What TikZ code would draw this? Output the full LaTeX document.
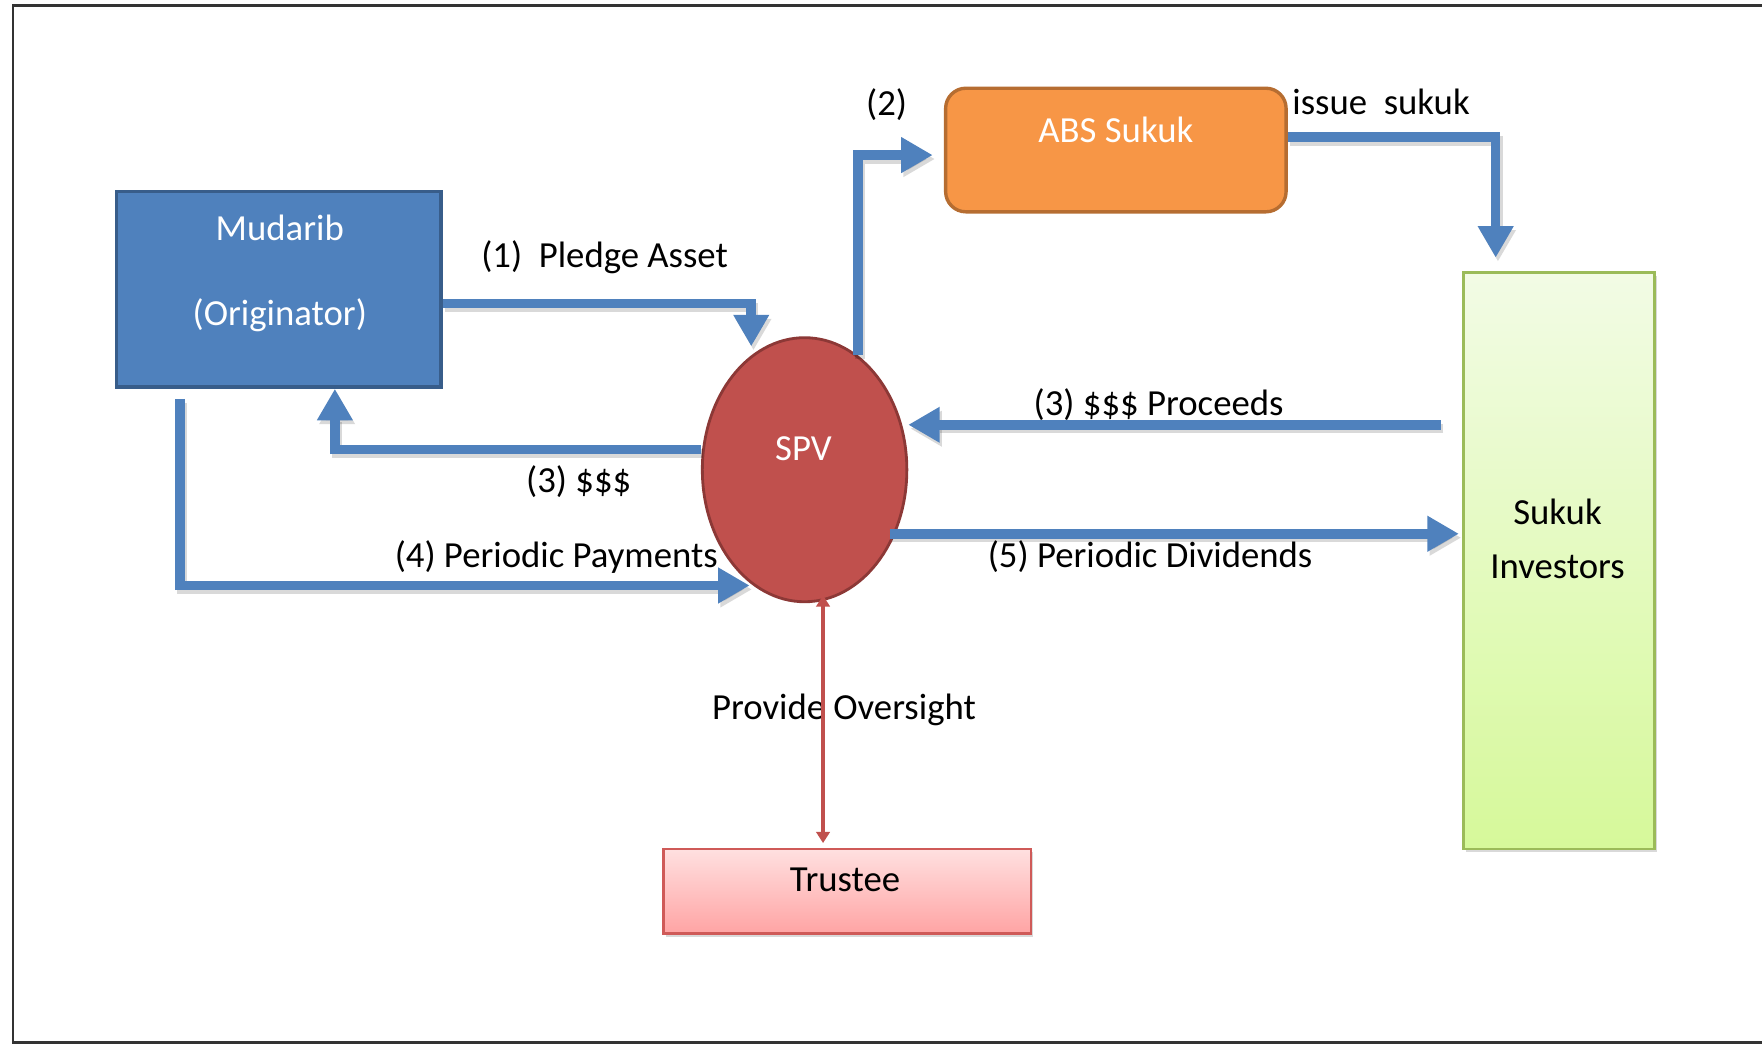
\documentclass[tikz,border=0pt]{standalone}
\usepackage{fontspec}
\setmainfont{Carlito}
\usetikzlibrary{arrows.meta,shapes.geometric,shadows}

\definecolor{flowblue}{HTML}{4F81BD}
\definecolor{mudfill}{HTML}{4F81BD}
\definecolor{mudedge}{HTML}{385D8A}
\definecolor{absfill}{HTML}{F79646}
\definecolor{absedge}{HTML}{B66D31}
\definecolor{spvfill}{HTML}{C0504D}
\definecolor{spvedge}{HTML}{8C3836}
\definecolor{invtop}{HTML}{F2FBE5}
\definecolor{invbot}{HTML}{D6F99A}
\definecolor{invedge}{HTML}{9BBB59}
\definecolor{trtop}{HTML}{FFE0E0}
\definecolor{trbot}{HTML}{FFA4A4}
\definecolor{tredge}{HTML}{CF5A58}
\definecolor{overred}{HTML}{C0504D}
\definecolor{framegray}{HTML}{333333}

\begin{document}
\begin{tikzpicture}[x=1pt,y=-1pt,
  every node/.style={font=\fontsize{32.7}{39}\selectfont},
  txt/.style={anchor=base, inner sep=0pt, text=black},
  wtxt/.style={anchor=base, inner sep=0pt, text=white},
  boxshape/.style={rectangle, inner sep=0pt},
  mudbox/.style={boxshape, fill=mudfill, draw=mudedge, line width=3pt,
    minimum width=289pt, minimum height=174pt},
  absbox/.style={boxshape, rounded corners=18pt, fill=absfill, draw=absedge,
    line width=3pt, minimum width=303pt, minimum height=110pt},
  spvnode/.style={ellipse, inner sep=0pt, fill=spvfill, draw=spvedge,
    line width=2.5pt, minimum width=182pt, minimum height=235pt},
  invbox/.style={boxshape, top color=invtop, bottom color=invbot, draw=invedge,
    line width=2.5pt, minimum width=170pt, minimum height=513pt,
    drop shadow={shadow xshift=2pt, shadow yshift=-3pt, opacity=0.3}},
  trbox/.style={boxshape, top color=trtop, bottom color=trbot, draw=tredge,
    line width=2.5pt, minimum width=327pt, minimum height=75pt,
    drop shadow={shadow xshift=2pt, shadow yshift=-3pt, opacity=0.3}},
  flow/.style={draw=flowblue, line width=8.5pt,
    -{Triangle[length=28pt,width=30pt]},
    preaction={draw=black, opacity=0.15, line width=8.5pt,
      -{Triangle[length=28pt,width=30pt]},
      transform canvas={shift={(2pt,-3.5pt)}}}},
  oversight/.style={draw=overred, line width=3.2pt,
    {Triangle[length=10pt,width=12pt]}-{Triangle[length=10pt,width=12pt]}}
]
\useasboundingbox (0,0) rectangle (1568,929);

% page frame
\draw[framegray, line width=2.6pt] (1568,5.3) -- (11.6,5.3) -- (11.6,927.3) -- (1568,927.3);

% parties
\node[mudbox] (mud) at (248,257.5) {};
\node[wtxt] (mudname) at (249,214) {Mudarib};
\node[wtxt] (mudrole) at (249,290) {(Originator)};

\node[absbox] (abs) at (993,133.5) {};
\node[wtxt] (absname) at (993,127) {ABS Sukuk};

\node[spvnode] (spv) at (716,418) {};
\node[wtxt] (spvname) at (715,410) {SPV};

\node[invbox] (inv) at (1387.5,499) {};
\node[txt] (invname1) at (1386,467) {Sukuk};
\node[txt] (invname2) at (1386,515) {Investors};

\node[trbox] (trustee) at (754,793) {};
\node[txt] (trname) at (752,793) {Trustee};

% flow labels
\node[txt] (lpledge) at (538,238) {(1)\ \ Pledge Asset};
\node[txt] (ltwo) at (789,103) {(2)};
\node[txt] (lissue) at (1229,102) {issue\ \ sukuk};
\node[txt] (lproceeds) at (1031,370) {(3) \$\$\$ Proceeds};
\node[txt] (lcash) at (515,438) {(3) \$\$\$};
\node[txt] (lpay) at (495,505) {(4) Periodic Payments};
\node[txt] (ldiv) at (1023.5,505) {(5) Periodic Dividends};
\node[txt] (lover) at (751,640) {Provide Oversight};

% flows
\coordinate (procstart) at ([shift={(-19pt,121pt)}]inv.west);
\draw[flow] ([yshift=-12.5pt]mud.east) -| ([yshift=8pt]spv.115);
\draw[flow, shorten >=10pt] (spv.65) |- ([yshift=-4.5pt]abs.west);
\draw[flow] ([yshift=11.5pt]abs.east) -| ([shift={(-56.5pt,12pt)}]inv.north);
\draw[flow] (procstart) -- (procstart -| spv.east);
\draw[flow] ([yshift=18pt]spv.west) -| ([xshift=50pt]mud.south);
\draw[flow] ([shift={(-88pt,-9pt)}]mud.south) |- ([xshift=-3pt]spv.246);
\draw[flow] ([shift={(-16.5pt,-57pt)}]spv.east) -- ([shift={(-3pt,24pt)}]inv.west);
\draw[oversight] ([yshift=5pt]spv.278) -- ([yshift=4pt]spv.278 |- trustee.north);

\end{tikzpicture}
\end{document}
